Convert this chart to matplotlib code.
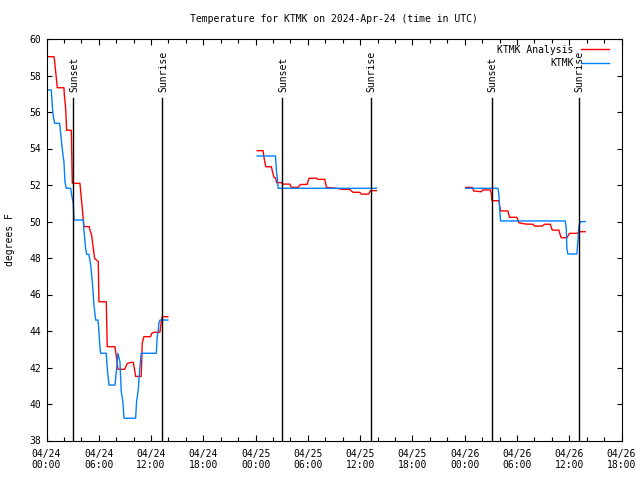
import numpy as np
import matplotlib
matplotlib.use("Agg")
import matplotlib.pyplot as plt
from matplotlib.ticker import MultipleLocator, FuncFormatter

# hours since 2024-04-24 00:00 UTC, nan = gap between days
analysis_hours = [
    0.1, 0.86, 0.95, 1.24, 2.0, 2.05, 2.2, 2.31, 2.85, 2.96, 3.07, 3.84, 4.3, 4.91,
    5.0, 5.18, 5.37, 5.52, 5.94, 6.02, 6.86, 6.97, 7.86, 8.05, 8.2, 8.97, 9.27,
    9.73, 9.96, 10.11, 10.23, 10.87, 10.99, 11.18, 11.95, 12.07, 12.33, 13.02,
    13.17, 13.28, 13.93,
    np.nan,
    24.18, 24.86, 24.98, 25.17, 25.82, 25.94, 26.13, 26.32, 26.4, 26.97, 27.09,
    27.92, 28.12, 28.88, 29.15, 29.91, 30.14, 30.98, 31.17, 31.94, 32.13, 33.28,
    33.97, 34.8, 35.18, 35.95, 36.14, 36.98, 37.18, 37.87,
    np.nan,
    48.11, 48.88, 49.03, 49.91, 50.1, 50.94, 51.06, 51.13, 51.93, 52.0, 52.12,
    52.96, 53.15, 53.99, 54.22, 54.99, 55.83, 56.02, 56.9, 57.17, 57.82, 58.05,
    58.81, 58.97, 59.08, 59.73, 60.03, 60.87, 61.18, 61.83,
]
analysis_temps = [
    59.03, 59.03, 58.7, 57.33, 57.33, 56.93, 56.2, 55.0, 55.0, 52.09, 52.09, 52.09,
    49.72, 49.72, 49.5, 49.26, 48.53, 47.98, 47.8, 45.6, 45.6, 43.14, 43.14, 42.5,
    41.9, 41.9, 42.22, 42.28, 42.28, 41.87, 41.51, 41.51, 43.33, 43.69, 43.69,
    43.87, 43.93, 43.93, 44.51, 44.78, 44.78,
    np.nan,
    53.88, 53.88, 53.46, 53.0, 53.0, 52.73, 52.4, 52.37, 52.13, 52.13, 52.05,
    52.05, 51.87, 51.87, 52.03, 52.03, 52.37, 52.37, 52.31, 52.31, 51.87, 51.82,
    51.76, 51.76, 51.6, 51.6, 51.5, 51.5, 51.69, 51.69,
    np.nan,
    51.87, 51.87, 51.67, 51.63, 51.73, 51.73, 51.54, 51.14, 51.14, 50.9, 50.58,
    50.58, 50.23, 50.23, 49.93, 49.86, 49.85, 49.75, 49.75, 49.85, 49.85, 49.53,
    49.53, 49.26, 49.11, 49.11, 49.35, 49.35, 49.44, 49.44,
]

ktmk_hours = [
    0.1, 0.55, 0.67, 0.78, 0.94, 1.51, 1.63, 1.7, 1.89, 2.0, 2.12, 2.27, 2.77,
    2.89, 3.07, 3.15, 4.22, 4.3, 4.49, 4.61, 4.87, 5.07, 5.26, 5.45, 5.64, 5.91,
    6.02, 6.1, 6.21, 6.86, 6.97, 7.17, 7.86, 8.05, 8.2, 8.43, 8.58, 8.77, 8.89,
    10.23, 10.34, 10.53, 10.68, 10.8, 10.87, 12.6, 12.71, 12.83, 12.9, 13.02, 13.93,
    np.nan,
    24.18, 26.28, 26.4, 26.51, 26.59, 37.87,
    np.nan,
    48.11, 51.81, 51.93, 52.0, 52.12, 59.54, 59.66, 59.73, 59.84, 60.87, 60.99,
    61.1, 61.26, 61.83,
]
ktmk_temps = [
    57.21, 57.21, 56.29, 55.74, 55.38, 55.38, 54.83, 54.47, 53.64, 53.28, 52.18,
    51.82, 51.82, 51.45, 51.0, 50.08, 50.08, 49.5, 48.53, 48.2, 48.2, 47.62, 46.7,
    45.42, 44.6, 44.6, 43.96, 43.32, 42.78, 42.78, 41.96, 41.04, 41.04, 41.96,
    42.78, 42.32, 40.68, 40.13, 39.22, 39.22, 40.13, 40.77, 41.77, 42.41, 42.78,
    42.78, 43.69, 44.05, 44.42, 44.6, 44.6,
    np.nan,
    53.59, 53.59, 52.73, 52.27, 51.82, 51.82,
    np.nan,
    51.82, 51.82, 51.45, 50.81, 50.03, 50.03, 49.63, 48.53, 48.22, 48.22, 48.9,
    49.72, 49.99, 49.99,
]

sunset_hours = [3.07, 27.04, 51.1]
sunrise_hours = [13.28, 37.2, 61.1]
day_labels = ["04/24", "04/25", "04/26", "04/27"]

plt.rcParams["font.family"] = "DejaVu Sans Mono"
plt.rcParams["font.size"] = 7

fig = plt.figure(figsize=(6.4, 4.8), dpi=100)
ax = fig.add_axes([46.5 / 640, 1 - 440.5 / 480, 575 / 640, 401.5 / 480])

ax.plot(analysis_hours, analysis_temps, color="#ff0000", lw=1.0, label="KTMK Analysis")
ax.plot(ktmk_hours, ktmk_temps, color="#0080ff", lw=1.0, label="KTMK")

for h in sunset_hours:
    ax.plot([h, h], [0, 0.853], color="black", lw=1.0, transform=ax.get_xaxis_transform())
    ax.text(h + 0.1, 0.868, "Sunset", rotation=90, ha="center", va="bottom",
            transform=ax.get_xaxis_transform())
for h in sunrise_hours:
    ax.plot([h, h], [0, 0.853], color="black", lw=1.0, transform=ax.get_xaxis_transform())
    ax.text(h + 0.1, 0.868, "Sunrise", rotation=90, ha="center", va="bottom",
            transform=ax.get_xaxis_transform())

ax.set_xlim(0, 66)
ax.set_ylim(38, 60)
ax.xaxis.set_major_locator(MultipleLocator(6))
ax.xaxis.set_minor_locator(MultipleLocator(2))
ax.yaxis.set_major_locator(MultipleLocator(2))


def fmt_time(x, pos):
    d = int(x // 24)
    return "%s\n%02d:00" % (day_labels[d], int(x % 24))


ax.xaxis.set_major_formatter(FuncFormatter(fmt_time))
ax.tick_params(which="both", direction="in", top=True, right=True, width=0.8)
ax.tick_params(which="major", length=4.5, pad=6)
ax.tick_params(which="minor", length=3)
ax.tick_params(axis="y", which="major", length=3.5, pad=4)
for s in ax.spines.values():
    s.set_linewidth(0.8)

ax.set_ylabel("degrees F", labelpad=10)
ax.set_title("Temperature for KTMK on 2024-Apr-24 (time in UTC)", fontsize=7, pad=12)

ax.legend(loc="upper right", frameon=False, markerfirst=False, handlelength=2.9,
          handletextpad=0.7, labelspacing=0.35, borderaxespad=0.2,
          bbox_to_anchor=(0.988, 1.0))

fig.savefig("out.png", dpi=100)
